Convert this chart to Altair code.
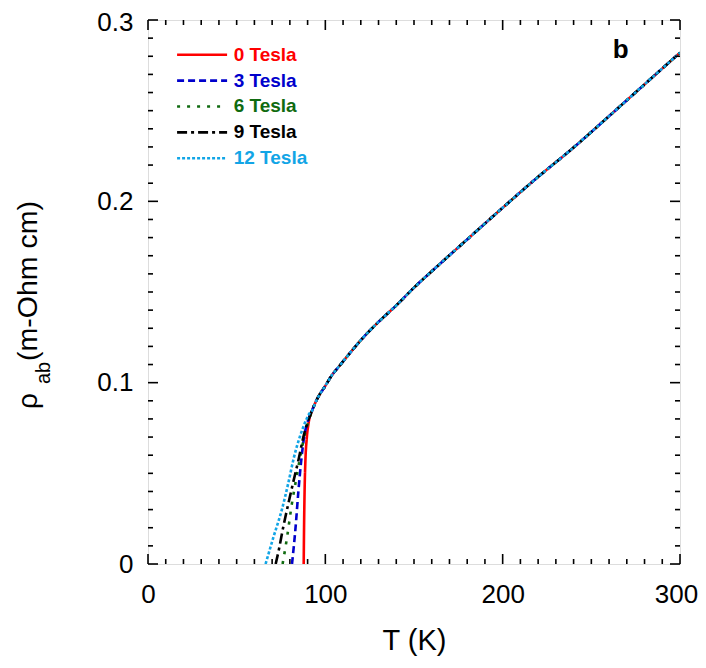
import altair as alt
import pandas as pd

# ---------------- data ----------------
series_names = ["0 Tesla", "3 Tesla", "6 Tesla", "9 Tesla", "12 Tesla"]
series_colors = ["#ff0000", "#0000cc", "#106b10", "#000000", "#12a5e6"]
series_dash = [[1, 0], [7, 4], [3, 7], [10, 4, 3, 4], [3, 2]]

# low-temperature (transition) part of each curve
low_T = {
    "0 Tesla":  [87.8, 88.0, 88.3, 88.8, 89.5, 90.6],
    "3 Tesla":  [81.2, 83.2, 84.8, 86.4, 88.2, 90.2],
    "6 Tesla":  [75.9, 78.3, 81.1, 83.6, 86.0, 88.3, 90.6],
    "9 Tesla":  [72.0, 73.6, 76.4, 79.3, 82.1, 85.0, 87.6, 90.3],
    "12 Tesla": [66.3, 70.8, 75.5, 79.2, 82.1, 85.9, 89.0, 91.0],
}
low_rho = {
    "0 Tesla":  [0.0, 0.020, 0.040, 0.058, 0.069, 0.078],
    "3 Tesla":  [0.0, 0.020, 0.040, 0.057, 0.071, 0.079],
    "6 Tesla":  [0.0, 0.014, 0.033, 0.047, 0.060, 0.071, 0.079],
    "9 Tesla":  [0.0, 0.007, 0.021, 0.034, 0.046, 0.058, 0.070, 0.079],
    "12 Tesla": [0.0, 0.015, 0.030, 0.045, 0.058, 0.071, 0.079, 0.083],
}

# normal-state part (all fields overlap)
normal_T = [92.5, 94.4, 96.8, 99.5, 103.5, 108.6, 114.0, 120.7, 130.0, 140.0,
            150.0, 161.0, 180.0, 203.4, 220.0, 239.8, 260.0, 280.0, 300.0]
normal_rho = [0.0845, 0.0890, 0.0935, 0.0975, 0.1038, 0.1100, 0.1165, 0.1242, 0.1335,
              0.1426, 0.1524, 0.1623, 0.1790, 0.1994, 0.2135, 0.2295, 0.2470, 0.2645, 0.2820]

x_major = [0, 100, 200, 300]
x_minor = [t for t in range(0, 301, 10) if t % 100 != 0]
y_major = [0.0, 0.1, 0.2, 0.3]
y_minor = [round(i * 0.01, 2) for i in range(0, 31) if i % 10 != 0]

panel_label = "b"

# ---------------- tables ----------------
rows = []
for k, name in enumerate(series_names):
    ts = low_T[name] + normal_T
    rs = low_rho[name] + normal_rho
    for i, (t, r) in enumerate(zip(ts, rs)):
        rows.append({"series": name, "order": k, "idx": i, "T": t, "rho": r})
df = pd.DataFrame(rows)

W, H = 532, 544
FONT = "Liberation Sans"

xscale = alt.Scale(domain=[0, 300], nice=False, zero=False)
yscale = alt.Scale(domain=[0, 0.3], nice=False, zero=False)
cscale = alt.Scale(domain=series_names, range=series_colors)
dscale = alt.Scale(domain=series_names, range=series_dash)

x_axis = alt.Axis(values=x_major, format="d", title="T (K)", ticks=False, domain=False,
                  grid=False, labelFontSize=26, labelFont=FONT, labelColor="black",
                  labelPadding=17, labelFlush=False, labelOverlap=False,
                  labelOffset={"condition": {"test": "datum.value == 300", "value": -4}, "value": 0},
                  titleFontSize=29, titleFont=FONT,
                  titleFontWeight="normal", titleColor="black", titlePadding=19)
y_axis = alt.Axis(values=y_major, format="~g", title=None, ticks=False, domain=False,
                  grid=False, labelFontSize=26, labelFont=FONT, labelColor="black",
                  labelPadding=15, labelFlush=False, labelOverlap=False,
                  labelOffset={"condition": {"test": "datum.value == 0.3", "value": 2}, "value": 0})


def X(field):
    return alt.X(field, scale=xscale, axis=x_axis, title="T (K)")


def Y(field):
    return alt.Y(field, scale=yscale, axis=y_axis, title=None)


lines = alt.Chart(df).mark_line(strokeWidth=2.6, interpolate="monotone", clip=True).encode(
    x=X("T:Q"),
    y=Y("rho:Q"),
    color=alt.Color("series:N", scale=cscale, legend=None),
    strokeDash=alt.StrokeDash("series:N", scale=dscale, legend=None),
    detail="order:O",
    order="idx:Q",
)

# ---------------- inward ticks on all four sides ----------------
def xticks(vals, length):
    d = pd.DataFrame({"v": vals})
    bottom = alt.Chart(d).mark_rule(color="black", strokeWidth=1.6).encode(
        x=X("v:Q"), y=alt.value(H), y2=alt.value(H - length))
    top = alt.Chart(d).mark_rule(color="black", strokeWidth=1.6).encode(
        x=X("v:Q"), y=alt.value(0), y2=alt.value(length))
    return [bottom, top]


def yticks(vals, length):
    d = pd.DataFrame({"v": vals})
    left = alt.Chart(d).mark_rule(color="black", strokeWidth=1.6).encode(
        y=Y("v:Q"), x=alt.value(0), x2=alt.value(length))
    right = alt.Chart(d).mark_rule(color="black", strokeWidth=1.6).encode(
        y=Y("v:Q"), x=alt.value(W), x2=alt.value(W - length))
    return [left, right]


ticks = xticks(x_major, 10) + xticks(x_minor, 5) + yticks(y_major, 10) + yticks(y_minor, 5)

# ---------------- legend (inside plot) ----------------
leg = pd.DataFrame({
    "series": series_names,
    "x0": [16.4] * 5,
    "x1": [44.6] * 5,
    "xt": [48.3] * 5,
    "y": [0.2808 - 0.01425 * i for i in range(5)],
})
leg_lines = alt.Chart(leg).mark_rule(strokeWidth=2.6).encode(
    x=X("x0:Q"), x2="x1:Q",
    y=Y("y:Q"),
    color=alt.Color("series:N", scale=cscale, legend=None),
    strokeDash=alt.StrokeDash("series:N", scale=dscale, legend=None),
)
leg_text = alt.Chart(leg).mark_text(align="left", baseline="middle", fontSize=19,
                                    fontWeight="bold", font=FONT).encode(
    x=X("xt:Q"),
    y=Y("y:Q"),
    text="series:N",
    color=alt.Color("series:N", scale=cscale, legend=None),
)

lab = alt.Chart(pd.DataFrame({"x": [266.5], "y": [0.2835], "t": [panel_label]})).mark_text(
    fontSize=26, fontWeight="bold", font=FONT, color="black", align="center", baseline="middle"
).encode(x=X("x:Q"), y=Y("y:Q"), text="t:N")

# ---------------- y title with subscript ----------------
one = pd.DataFrame({"a": [0]})
yt_rho = alt.Chart(one).mark_text(text="ρ", angle=270, align="left", baseline="alphabetic",
                                  fontSize=28, font=FONT, color="black").encode(
    x=alt.value(-111), y=alt.value(389))
yt_sub = alt.Chart(one).mark_text(text="ab", angle=270, align="left", baseline="alphabetic",
                                  fontSize=20, font=FONT, color="black").encode(
    x=alt.value(-98), y=alt.value(364))
yt_unit = alt.Chart(one).mark_text(text="(m-Ohm cm)", angle=270, align="left", baseline="alphabetic",
                                   fontSize=28.5, font=FONT, color="black").encode(
    x=alt.value(-111), y=alt.value(341))

chart = alt.layer(lines, *ticks, leg_lines, leg_text, lab, yt_rho, yt_sub, yt_unit).properties(
    width=W, height=H,
    autosize=alt.AutoSizeParams(type="none"),
    padding={"left": 140, "top": 12, "right": 18, "bottom": 94},
).configure_view(stroke="black", strokeWidth=2).configure(background="white")

chart.save("out.html", embed_options={"renderer": "svg", "actions": False})
